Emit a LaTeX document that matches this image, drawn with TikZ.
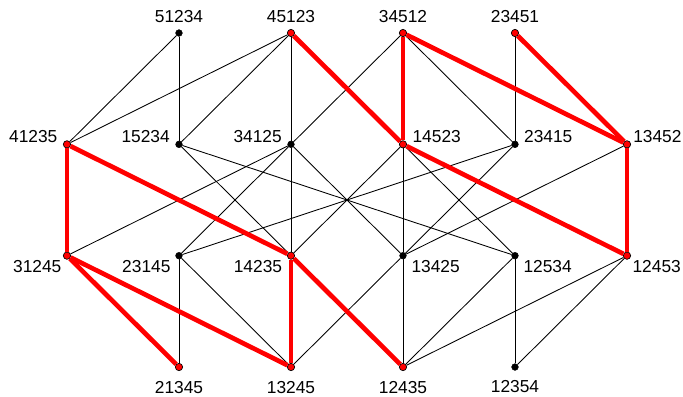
\documentclass[tikz,border=0pt]{standalone}
\usepackage{fontspec}
\setmainfont{Liberation Sans}
\usepackage{tikz}
\usetikzlibrary{arrows,positioning}

\begin{document}
\begin{tikzpicture}[x=84pt,y=83.5pt,
  every label/.style={font=\fontsize{13pt}{16pt}\selectfont,inner sep=1pt},
  blk/.style={circle,fill=black,draw=black,inner sep=0pt,minimum size=5pt},
  rd/.style={circle,fill=red,draw=black,line width=0.5pt,inner sep=0pt,minimum size=5.5pt},
  ltop/.style={label={[label distance=3.5pt]above:#1}},
  lbot/.style={label={[label distance=6.5pt]below:#1}},
  lul/.style={label={[label distance=3pt,yshift=6pt]left:#1}},
  lur/.style={label={[label distance=3pt,yshift=6pt]right:#1}},
  ldl/.style={label={[label distance=2.5pt,yshift=-8.5pt]left:#1}},
  ldr/.style={label={[label distance=2.5pt,yshift=-8.5pt]right:#1}},
  lurx/.style={label={[label distance=0.5pt,yshift=6pt]right:#1}},
  ldlx/.style={label={[label distance=0pt,yshift=-8.5pt]left:#1}},
  ldrx/.style={label={[label distance=0pt,yshift=-8.5pt]right:#1}},
  edge/.style={line width=0.65pt},
  hot/.style={line width=3.5pt,red}]

\useasboundingbox (-0.598,-0.2605) rectangle (5.5,3.2965);

\node[blk,ltop=51234] (51234) at (1,3){};
\node[rd,ltop=45123] (45123) at (2,3){};
\node[rd,ltop=34512] (34512) at (3,3){};
\node[rd,ltop=23451] (23451) at (4,3){};
\node[rd,lul=41235] (41235) at (0,2){};
\node[blk,lul=15234] (15234) at (1,2){};
\node[blk,lul=34125] (34125) at (2,2){};
\node[rd,lur=14523] (14523) at (3,2){};
\node[blk,lur=23415] (23415) at (4,2){};
\node[rd,lurx=13452] (13452) at (5,2){};
\node[rd,ldlx=31245] (31245) at (0,1){};
\node[blk,ldl=23145] (23145) at (1,1){};
\node[rd,ldl=14235] (14235) at (2,1){};
\node[blk,ldr=13425] (13425) at (3,1){};
\node[blk,ldr=12534] (12534) at (4,1){};
\node[rd,ldrx=12453] (12453) at (5,1){};
\node[rd,lbot=21345] (21345) at (1,0){};
\node[rd,lbot=13245] (13245) at (2,0){};
\node[rd,lbot=12435] (12435) at (3,0){};
\node[blk,lbot=12354] (12354) at (4,0){};

\begin{scope}[on background layer/.try]
\draw[edge] (51234) -- (41235);
\draw[edge] (51234) -- (15234);
\draw[edge] (45123) -- (41235);
\draw[edge] (45123) -- (15234);
\draw[edge] (45123) -- (34125);
\draw[edge] (34512) -- (34125);
\draw[edge] (34125) -- (23145);
\draw[edge] (34512) -- (23415);
\draw[edge] (23451) -- (23415);
\draw[edge] (15234) -- (14235);
\draw[edge] (15234) -- (12534);
\draw[edge] (34125) -- (14235);
\draw[edge] (34125) -- (31245);
\draw[edge] (34125) -- (13425);
\draw[edge] (23145) -- (23415);
\draw[edge] (23145) -- (21345);
\draw[edge] (23145) -- (13245);
\draw[edge] (14523) -- (14235);
\draw[edge] (14523) -- (13425);
\draw[edge] (14523) -- (12534);
\draw[edge] (13425) -- (13452);
\draw[edge] (13425) -- (23415);
\draw[edge] (13425) -- (13245);
\draw[edge] (13425) -- (12435);
\draw[edge] (12534) -- (12435);
\draw[edge] (12534) -- (12354);
\draw[edge] (12453) -- (12435);
\draw[edge] (12453) -- (12354);
\draw[hot] (45123) -- (14523);
\draw[hot] (34512) -- (14523);
\draw[hot] (34512) -- (13452);
\draw[hot] (23451) -- (13452);
\draw[hot] (41235) -- (31245);
\draw[hot] (41235) -- (14235);
\draw[hot] (14523) -- (12453);
\draw[hot] (13452) -- (12453);
\draw[hot] (31245) -- (21345);
\draw[hot] (31245) -- (13245);
\draw[hot] (14235) -- (13245);
\draw[hot] (14235) -- (12435);
\end{scope}

\end{tikzpicture}
\end{document}
